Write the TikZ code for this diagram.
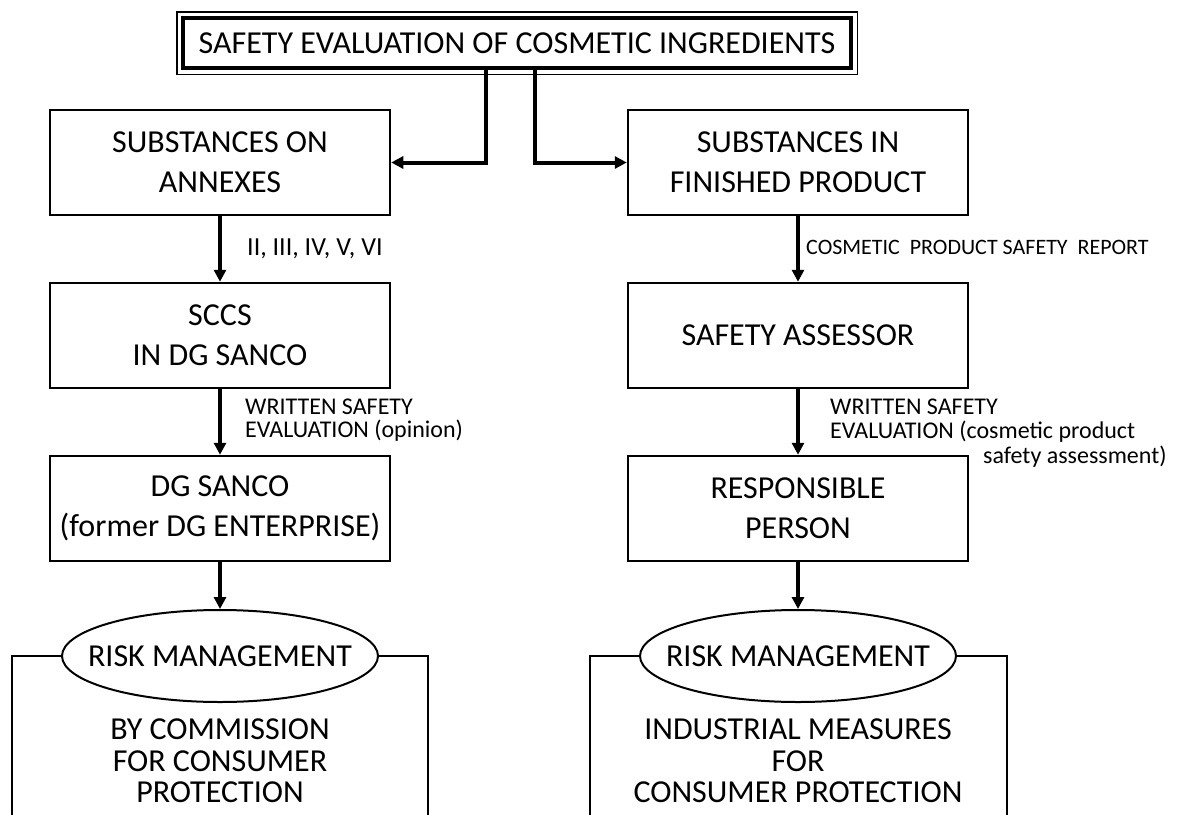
\documentclass[tikz,border=0pt]{standalone}
\usepackage{fontspec}
\setmainfont{Carlito}
\usetikzlibrary{arrows.meta,shapes.geometric,calc}
\begin{document}
\begin{tikzpicture}[x=1pt,y=-1pt,
  box/.style={draw,line width=2.5pt,minimum width=340pt,minimum height=105pt,inner sep=0pt,align=center,font=\fontsize{32}{40}\selectfont},
  arr/.style={line width=4pt,-{Triangle[length=12pt,width=12pt]}},
  lab/.style={anchor=west,inner sep=0pt,align=left,font=\fontsize{24}{23.5}\selectfont},
  ell/.style={draw,ellipse,line width=2pt,minimum width=316pt,minimum height=92pt,inner sep=0pt,font=\fontsize{32}{32}\selectfont},
  frameline/.style={line width=2pt},
  ftext/.style={align=center,inner sep=0pt,font=\fontsize{32}{31.5}\selectfont}]

\useasboundingbox (0,0) rectangle (1178,814);
\fill[white] (0,0) rectangle (1178,814);

% title
\node[draw,line width=4.5pt,minimum width=668pt,minimum height=50pt,inner sep=0pt,font=\fontsize{32}{32}\selectfont] (title) at (517,43) {SAFETY EVALUATION OF COSMETIC INGREDIENTS};
\draw[line width=1.5pt] ([xshift=-4pt,yshift=4pt]title.north west) rectangle ([xshift=4pt,yshift=-4pt]title.south east);

% boxes
\node[box] (b1) at (220,162.5) {SUBSTANCES ON\\ANNEXES};
\node[box] (b2) at (798,162.5) {SUBSTANCES IN\\FINISHED PRODUCT};
\node[box] (b3) at (220,335.5) {SCCS\\IN DG SANCO};
\node[box] (b4) at (798,335.5) {SAFETY ASSESSOR};
\node[box] (b5) at (220,508.5) {DG SANCO\\(former DG ENTERPRISE)};
\node[box] (b6) at (798,508.5) {RESPONSIBLE\\PERSON};

% ellipses
\node[ell] (e1) at (220,656) {\makebox[180pt]{RISK MANAGEMENT}};
\node[ell] (e2) at (798,656) {\makebox[180pt]{RISK MANAGEMENT}};

% arrows from title
\coordinate (lx) at (486,0);
\coordinate (rx) at (535,0);
\draw[arr] (title.south -| lx) |- (b1.east);
\draw[arr] (title.south -| rx) |- (b2.west);

% column arrows
\draw[arr] (b1.south) -- (b3.north);
\draw[arr] (b3.south) -- (b5.north);
\draw[arr] (b5.south) -- (e1.north);
\draw[arr] (b2.south) -- (b4.north);
\draw[arr] (b4.south) -- (b6.north);
\draw[arr] (b6.south) -- (e2.north);

% labels
\node[lab,font=\fontsize{26}{26}\selectfont] (l1) at (247,249) {II, III, IV, V, VI};
\node[lab,font=\fontsize{22}{22}\selectfont] (l2) at (806,247) {COSMETIC\ \ PRODUCT SAFETY\ \ REPORT};
\node[lab] (l3) at (245,420) {WRITTEN SAFETY\\EVALUATION (opinion)};
\node[lab] (l4) at (830,434) {\begin{tabular}{@{}l@{}}WRITTEN SAFETY\\EVALUATION (cosmetic product\\\hspace*{153pt}safety assessment)\end{tabular}};

% bottom frames
\coordinate (f1) at (12,818);
\coordinate (f2) at (428,818);
\coordinate (f3) at (590,818);
\coordinate (f4) at (1007,818);
\draw[frameline] (e1.west) -| (f1);
\draw[frameline] (e1.east) -| (f2);
\draw[frameline] (e2.west) -| (f3);
\draw[frameline] (e2.east) -| (f4);

\node[ftext] (t1) at (220,761) {BY COMMISSION\\FOR CONSUMER\\PROTECTION};
\node[ftext] (t2) at (798,761) {INDUSTRIAL MEASURES\\FOR\\CONSUMER PROTECTION};
\end{tikzpicture}
\end{document}
